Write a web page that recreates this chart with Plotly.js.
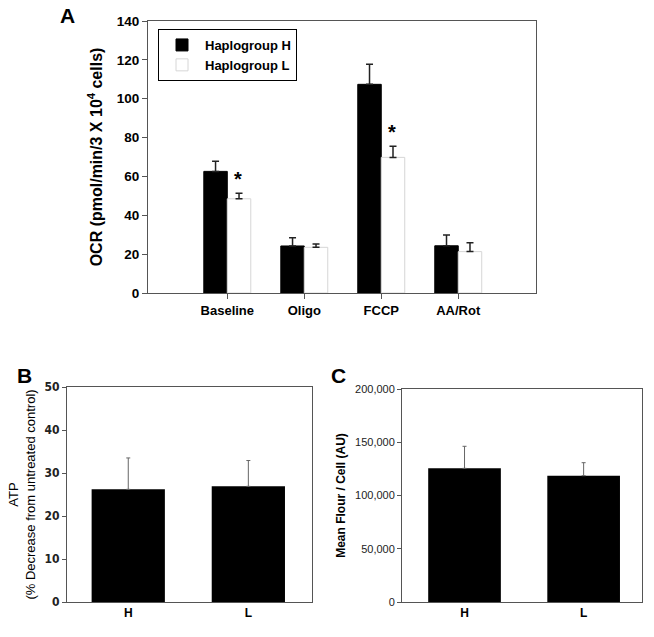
<!DOCTYPE html>
<html><head><meta charset="utf-8">
<script src="https://cdn.plot.ly/plotly-3.0.1.min.js"></script>
<style>html,body{margin:0;padding:0;background:#fff}</style>
</head><body><div id="plot" style="width:654px;height:637px"></div>
<script>
// Panel A data
const ocrCategories = ["Baseline", "Oligo", "FCCP", "AA/Rot"];
const ocrH = [62.6, 24.2, 107.4, 24.3];
const ocrHErr = [5.2, 4.3, 10.3, 5.5];
const ocrL = [48.5, 23.5, 69.8, 21.3];
const ocrLErr = [2.8, 1.7, 5.7, 4.6];
const ocrTicks = [0, 20, 40, 60, 80, 100, 120, 140];
const sigCategories = ["Baseline", "FCCP"];
// Panel B data
const atpCategories = ["H", "L"];
const atpValues = [26.2, 26.9];
const atpErr = [7.3, 6.0];
const atpTicks = [0, 10, 20, 30, 40, 50];
// Panel C data
const flourCategories = ["H", "L"];
const flourValues = [125500, 118600];
const flourErr = [20700, 12200];
const flourTicks = [0, 50000, 100000, 150000, 200000];

const W = 654, H = 637;
const F = "Arial, 'Liberation Sans', sans-serif";
const FN = "'Liberation Sans Narrow', 'Arial Narrow', 'DejaVu Sans Condensed', Arial, sans-serif";
const axCol = "#555";

const traces = [
  {type:"bar", name:"Haplogroup H", x:ocrCategories, y:ocrH, xaxis:"x", yaxis:"y",
   marker:{color:"#000", line:{color:"#000", width:1}},
   error_y:{type:"data", array:ocrHErr, arrayminus:ocrHErr.map(()=>0), symmetric:false, color:"#222", thickness:1.5, width:3.5}},
  {type:"bar", name:"Haplogroup L", x:ocrCategories, y:ocrL, xaxis:"x", yaxis:"y",
   marker:{color:"#fff", line:{color:"#d6d6d6", width:1}},
   error_y:{type:"data", array:ocrLErr, arrayminus:ocrLErr.map(()=>0), symmetric:false, color:"#222", thickness:1.5, width:3.5}},
  {type:"bar", x:atpCategories, y:atpValues, xaxis:"x2", yaxis:"y2", showlegend:false,
   marker:{color:"#000"},
   error_y:{type:"data", array:atpErr, arrayminus:atpErr.map(()=>0), symmetric:false, color:"#666", thickness:1, width:2}},
  {type:"bar", x:flourCategories, y:flourValues, xaxis:"x3", yaxis:"y3", showlegend:false,
   marker:{color:"#000"},
   error_y:{type:"data", array:flourErr, arrayminus:flourErr.map(()=>0), symmetric:false, color:"#666", thickness:1, width:2}}
];

function px(x){return x/W;}
function py(y){return 1 - y/H;}

const baseAxis = {showline:true, mirror:true, linecolor:axCol, linewidth:1, zeroline:false, showgrid:false, fixedrange:true};

const annotations = [
  {text:"A", xref:"paper", yref:"paper", x:px(67), y:py(15), xanchor:"center", yanchor:"middle", showarrow:false, font:{family:F, size:21, color:"#000", weight:"bold"}},
  {text:"B", xref:"paper", yref:"paper", x:px(24), y:py(375), xanchor:"center", yanchor:"middle", showarrow:false, font:{family:F, size:21, color:"#000", weight:"bold"}},
  {text:"C", xref:"paper", yref:"paper", x:px(338), y:py(375), xanchor:"center", yanchor:"middle", showarrow:false, font:{family:F, size:21, color:"#000", weight:"bold"}}
];
sigCategories.forEach(c => {
  const i = ocrCategories.indexOf(c);
  annotations.push({text:"*", xref:"x", yref:"y", x:c, y:ocrL[i] + ocrLErr[i], xshift:11, yshift:1,
    xanchor:"center", yanchor:"bottom", showarrow:false, font:{family:F, size:20, color:"#000", weight:"bold"}});
});

const layout = {
  width:W, height:H, margin:{l:0, r:0, t:0, b:0},
  paper_bgcolor:"#fff", plot_bgcolor:"#fff",
  barmode:"group", bargap:0.39, bargroupgap:0,
  showlegend:true,
  legend:{x:px(158), y:py(29), xanchor:"left", yanchor:"top", bordercolor:"#000", borderwidth:1,
    bgcolor:"#fff", font:{family:F, size:13, color:"#000", weight:"bold"}, tracegroupgap:0, itemwidth:36},
  xaxis:Object.assign({}, baseAxis, {domain:[px(148), px(536)], anchor:"y", type:"category",
    range:[-1.03, 4.01], ticks:"outside", ticklen:5, tickcolor:axCol,
    tickfont:{family:F, size:13, color:"#000", weight:"bold"}}),
  yaxis:Object.assign({}, baseAxis, {domain:[py(293), py(21)], anchor:"x", range:[0,140],
    tickvals:ocrTicks, ticks:"outside", ticklen:5, tickcolor:axCol,
    tickfont:{family:F, size:13.5, color:"#000", weight:"bold"},
    title:{text:"OCR (pmol/min/3 X 10<sup>4</sup> cells)", font:{family:F, size:16, color:"#000", weight:"bold"}, standoff:10}}),
  xaxis2:Object.assign({}, baseAxis, {domain:[px(67), px(312)], anchor:"y2", type:"category",
    range:[-0.51, 1.53], ticks:"",
    tickfont:{family:F, size:12, color:"#000", weight:"bold"}}),
  yaxis2:Object.assign({}, baseAxis, {domain:[py(602), py(387)], anchor:"x2", range:[0,50],
    tickvals:atpTicks, ticks:"outside", ticklen:4, tickcolor:axCol,
    tickfont:{family:FN, size:12, color:"#222", weight:"bold"},
    title:{text:"ATP<br>(% Decrease from untreated control)", font:{family:F, size:13, color:"#000"}, standoff:6}}),
  xaxis3:Object.assign({}, baseAxis, {domain:[px(402), px(642)], anchor:"y3", type:"category",
    range:[-0.525, 1.49], ticks:"",
    tickfont:{family:F, size:12, color:"#000", weight:"bold"}}),
  yaxis3:Object.assign({}, baseAxis, {domain:[py(602), py(389)], anchor:"x3", range:[0,200000],
    tickvals:flourTicks, tickformat:",d", ticks:"outside", ticklen:4, tickcolor:axCol,
    tickfont:{family:F, size:11, color:"#222"},
    title:{text:"Mean Flour / Cell (AU)", font:{family:F, size:12, color:"#000", weight:"bold"}, standoff:6}}),
  annotations:annotations
};

Plotly.newPlot("plot", traces, layout, {displayModeBar:false, staticPlot:true});
</script>
</body></html>
